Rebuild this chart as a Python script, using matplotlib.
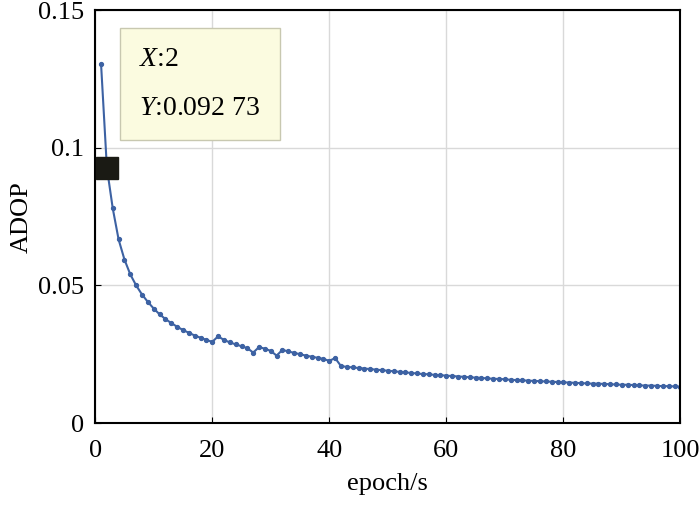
import matplotlib
matplotlib.use("Agg")
import matplotlib.pyplot as plt

epoch = list(range(1, 101))
adop = [
    0.1305, 0.0927, 0.0780, 0.0667, 0.0594, 0.0540, 0.0500, 0.0467, 0.0440, 0.0416,
    0.0395, 0.0378, 0.0363, 0.0350, 0.0338, 0.0328, 0.0318, 0.0310, 0.0302, 0.0295,
    0.0315, 0.0302, 0.0293, 0.0286, 0.0279, 0.0272, 0.0256, 0.0276, 0.0270, 0.0262,
    0.0245, 0.0266, 0.0260, 0.0255, 0.0250, 0.0245, 0.0241, 0.0237, 0.0233, 0.0226,
    0.0236, 0.0207, 0.0204, 0.0202, 0.0200, 0.0198, 0.0196, 0.0194, 0.0192, 0.0190,
    0.0188, 0.0186, 0.0184, 0.0182, 0.0180, 0.0178, 0.0177, 0.0175, 0.0174, 0.0172,
    0.0171, 0.0169, 0.0168, 0.0166, 0.0165, 0.0164, 0.0162, 0.0161, 0.0160, 0.0159,
    0.0157, 0.0156, 0.0155, 0.0154, 0.0153, 0.0152, 0.0151, 0.0150, 0.0149, 0.0148,
    0.0147, 0.0146, 0.0145, 0.0144, 0.0143, 0.0143, 0.0142, 0.0141, 0.0140, 0.0139,
    0.0139, 0.0138, 0.0137, 0.0136, 0.0136, 0.0135, 0.0134, 0.0134, 0.0133, 0.0132,
]
xticks = [0, 20, 40, 60, 80, 100]
yticks = [0, 0.05, 0.1, 0.15]
ytick_labels = ["0", "0.05", "0.1", "0.15"]
tip_x, tip_y = 2, 0.09273

plt.rcParams["font.family"] = "Liberation Serif"
plt.rcParams["mathtext.fontset"] = "custom"
plt.rcParams["mathtext.it"] = "Liberation Serif:italic"
plt.rcParams["mathtext.rm"] = "Liberation Serif"
fig = plt.figure(figsize=(7.0, 5.14), dpi=100)
ax = fig.add_axes([0.136, 0.177, 0.836, 0.803])
ax.plot(epoch, adop, color="#3d62a3", lw=1.5, marker="o", ms=2.8)
ax.set_xlim(0, 100)
ax.set_ylim(0, 0.15)
ax.set_xticks(xticks)
ax.set_yticks(yticks)
ax.set_yticklabels(ytick_labels)
ax.tick_params(labelsize=19, direction="in", length=4)
ax.tick_params(axis="x", pad=12)
ax.tick_params(axis="y", pad=8)
ax.grid(True, color="#d9d9d9", lw=1)
for s in ax.spines.values():
    s.set_linewidth(1.5)
ax.set_xlabel("epoch/s", fontsize=19, labelpad=8)
ax.set_ylabel("ADOP", fontsize=19)

# data tip
ax.plot([tip_x], [tip_y], marker="s", ms=16, color="#1a1a14", clip_on=False, zorder=5)
ax.text(7.5, 0.1365, "$\\mathit{X}$:2\n\n$\\mathit{Y}$:0.092 73", fontsize=20, va="top",
        linespacing=0.95,
        bbox=dict(boxstyle="square,pad=0.7", fc="#fbfbe0", ec="#c8c8b0"), zorder=6)

fig.savefig("out.png", dpi=100)
